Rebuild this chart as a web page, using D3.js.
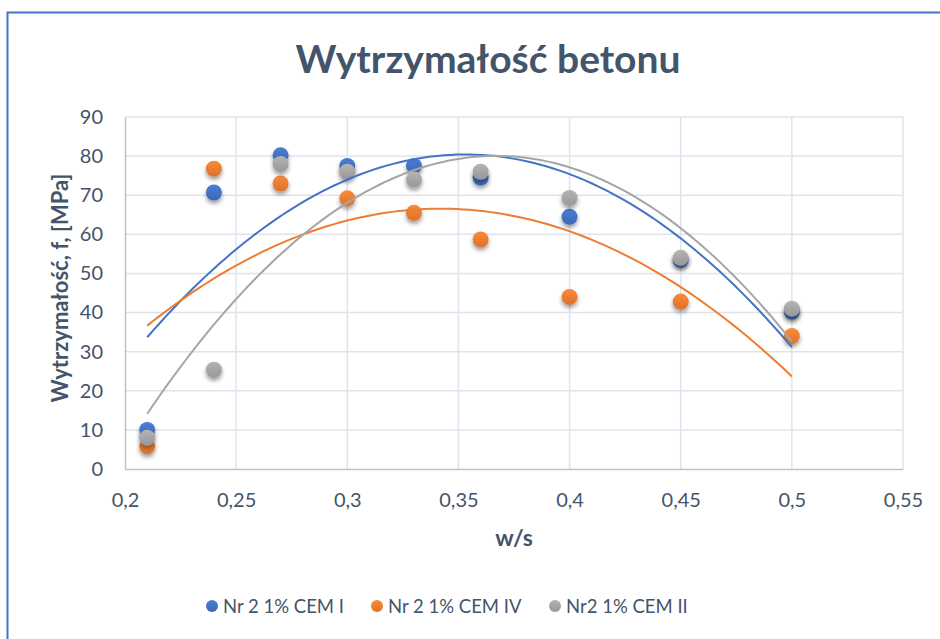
<!DOCTYPE html>
<html><head><meta charset="utf-8">
<script src="https://cdn.jsdelivr.net/npm/d3@7"></script>
<style>html,body{margin:0;padding:0;background:#fff;}svg{display:block;}</style>
</head><body>
<script>
const xValues = [0.21, 0.24, 0.27, 0.30, 0.33, 0.36, 0.40, 0.45, 0.50];
const cem1 = [10, 70.7, 80.2, 77.5, 77.5, 74.5, 64.5, 53.5, 40.2];
const cem4 = [5.8, 76.8, 73.0, 69.2, 65.5, 58.7, 44.0, 42.8, 34.0];
const cem2 = [8.0, 25.4, 78.0, 76.0, 74.0, 76.0, 69.3, 54.0, 41.0];
const seriesNames = ["Nr 2 1% CEM I", "Nr 2 1% CEM IV", "Nr2 1% CEM II"];
const seriesColors = ["#4472c4", "#ed7d31", "#a5a5a5"];
const xTicks = [0.2, 0.25, 0.3, 0.35, 0.4, 0.45, 0.5, 0.55];
const yTicks = [0, 10, 20, 30, 40, 50, 60, 70, 80, 90];

const W = 940, H = 639;
const svg = d3.select("body").append("svg").attr("width", W).attr("height", H);
const defs = svg.append("defs");
const FONT = "Lato, 'Open Sans', sans-serif";
const TXT = "#44546a";

// chart border (partially visible)
svg.append("path").attr("d", `M7.5,${H+5} V12.5 H${W+5}`).attr("fill","none").attr("stroke","#4472c4").attr("stroke-width",2);

const x = d3.scaleLinear().domain([0.2, 0.55]).range([125, 903]);
const y = d3.scaleLinear().domain([0, 90]).range([469, 117]);

// gridlines
const g = svg.append("g");
g.selectAll("line.h").data(yTicks.filter(d=>d>0)).join("line")
  .attr("x1", x(0.2)).attr("x2", x(0.55)).attr("y1", d=>y(d)).attr("y2", d=>y(d))
  .attr("stroke", "#dfe4ec").attr("stroke-width", 1.5);
g.selectAll("line.v").data(xTicks.filter(d=>d>0.2)).join("line")
  .attr("y1", y(0)).attr("y2", y(90)).attr("x1", d=>x(d)).attr("x2", d=>x(d))
  .attr("stroke", "#dfe4ec").attr("stroke-width", 1.5);

// axes
const xAxis = d3.axisBottom(x).tickValues(xTicks).tickSize(0).tickPadding(24)
  .tickFormat(d => d3.format("")(+d.toFixed(2)).replace(".", ","));
const ax = svg.append("g").attr("transform", `translate(0,${y(0)})`).call(xAxis);
ax.select(".domain").attr("stroke", "#b7c2d3").attr("stroke-width", 1.5);
ax.selectAll("text").attr("font-family", FONT).attr("font-size", 20).attr("fill", TXT);

const yAxis = d3.axisLeft(y).tickValues(yTicks).tickSize(0).tickPadding(22);
const ay = svg.append("g").attr("transform", `translate(${x(0.2)},0)`).call(yAxis);
ay.select(".domain").attr("stroke", "#b7c2d3").attr("stroke-width", 1.5);
ay.selectAll("text").attr("font-family", FONT).attr("font-size", 20).attr("fill", TXT);

// titles
svg.append("text").attr("x", 488).attr("y", 73).attr("text-anchor", "middle")
  .attr("font-family", FONT).attr("font-weight", "bold").attr("font-size", 39).attr("fill", TXT)
  .text("Wytrzymałość betonu");
svg.append("text").attr("x", 514).attr("y", 546).attr("text-anchor", "middle")
  .attr("font-family", FONT).attr("font-weight", "bold").attr("font-size", 23).attr("fill", TXT)
  .text("w/s");
svg.append("text").attr("transform", "translate(68,288) rotate(-90)").attr("text-anchor", "middle")
  .attr("font-family", FONT).attr("font-weight", "bold").attr("font-size", 22).attr("fill", TXT)
  .text("Wytrzymałość, f, [MPa]");

// marker styles
const filt = defs.append("filter").attr("id", "sh").attr("x", "-50%").attr("y", "-50%").attr("width", "200%").attr("height", "220%");
filt.append("feDropShadow").attr("dx", 0).attr("dy", 3).attr("stdDeviation", 2).attr("flood-color", "#000").attr("flood-opacity", 0.4);
seriesColors.forEach((c, i) => {
  const gr = defs.append("linearGradient").attr("id", "gr" + i).attr("x1", 0).attr("y1", 0).attr("x2", 0).attr("y2", 1);
  gr.append("stop").attr("offset", "0%").attr("stop-color", d3.color(c).brighter(0.25));
  gr.append("stop").attr("offset", "100%").attr("stop-color", d3.color(c).darker(0.25));
});

// quadratic least-squares trendline (Excel polynomial order 2)
function polyFit2(xs, ys) {
  const n = xs.length;
  let s = [0,0,0,0,0], t = [0,0,0];
  for (let i = 0; i < n; i++) {
    const xi = xs[i], yi = ys[i];
    for (let k = 0; k < 5; k++) s[k] += Math.pow(xi, k);
    for (let k = 0; k < 3; k++) t[k] += yi * Math.pow(xi, k);
  }
  const A = [[s[0], s[1], s[2], t[0]], [s[1], s[2], s[3], t[1]], [s[2], s[3], s[4], t[2]]];
  for (let i = 0; i < 3; i++) {
    let p = i; for (let r = i+1; r < 3; r++) if (Math.abs(A[r][i]) > Math.abs(A[p][i])) p = r;
    [A[i], A[p]] = [A[p], A[i]];
    for (let r = 0; r < 3; r++) if (r !== i) {
      const f = A[r][i] / A[i][i];
      for (let c = i; c < 4; c++) A[r][c] -= f * A[i][c];
    }
  }
  return [A[0][3]/A[0][0], A[1][3]/A[1][1], A[2][3]/A[2][2]];
}

const allSeries = [cem1, cem4, cem2];
const plot = svg.append("g");
allSeries.forEach((vals, i) => {
  plot.append("g").selectAll("circle").data(vals.map((v, j) => [xValues[j], v])).join("circle")
    .attr("cx", d => x(d[0])).attr("cy", d => y(d[1])).attr("r", 8)
    .attr("fill", `url(#gr${i})`).attr("filter", "url(#sh)");
});
const line = d3.line().x(d => x(d[0])).y(d => y(d[1])).curve(d3.curveLinear);
allSeries.forEach((vals, i) => {
  const c = polyFit2(xValues, vals);
  const lo = d3.min(xValues), hi = d3.max(xValues);
  const pts = d3.range(0, 101).map(k => { const xx = lo + (hi - lo) * k / 100; return [xx, c[0] + c[1]*xx + c[2]*xx*xx]; });
  plot.append("path").attr("d", line(pts)).attr("fill", "none").attr("stroke", seriesColors[i]).attr("stroke-width", 2);
});

// legend
const legX = [212, 377, 555];
seriesNames.forEach((nm, i) => {
  svg.append("circle").attr("cx", legX[i]).attr("cy", 606).attr("r", 6).attr("fill", `url(#gr${i})`);
  svg.append("text").attr("x", legX[i] + 11).attr("y", 612.5).attr("font-family", FONT).attr("font-size", 18.5)
    .attr("fill", TXT).text(nm);
});
</script>
</body></html>
